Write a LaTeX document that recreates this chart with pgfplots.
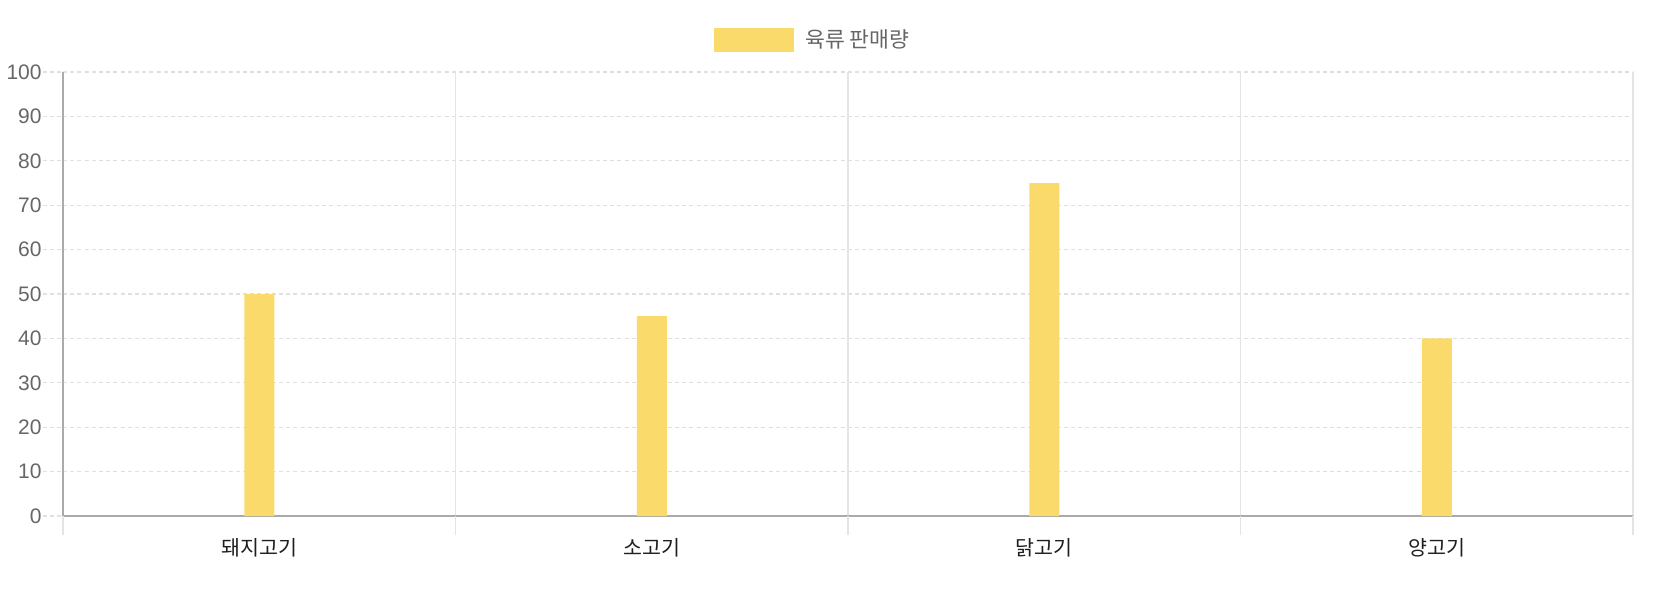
\documentclass[border=0pt]{standalone}
\usepackage{fontspec}
\setmainfont{Liberation Sans}
\newfontfamily\kr{Noto Sans CJK KR}
\usepackage{pgfplots}
\pgfplotsset{compat=1.18}
\definecolor{barfill}{RGB}{249,218,106}
\definecolor{gridgray}{RGB}{224,224,224}
\definecolor{vgrid}{RGB}{228,228,228}
\definecolor{axisgray}{RGB}{170,170,170}
\definecolor{ticktext}{RGB}{102,102,102}
\begin{document}
\begin{tikzpicture}
\begin{axis}[
  at={(0,0)},anchor=south west,
  scale only axis,width=785pt,height=222pt,
  xmin=-0.5,xmax=3.5,ymin=0,ymax=100,
  ybar,bar width=15pt,bar shift=0pt,
  xtick={0,1,2,3},
  xticklabels={돼지고기,소고기,닭고기,양고기},
  minor xtick={0.5,1.5,2.5,3.5},
  ytick={0,10,...,100},
  major tick length=0pt,minor tick length=0pt,
  ymajorgrids,xminorgrids,
  major grid style={draw=gridgray,dash pattern=on 2pt off 1.6pt,line width=0.6pt},
  minor grid style={draw=vgrid,solid,line width=0.6pt},
  axis x line*=bottom,axis y line*=left,
  axis line style={draw=axisgray,line width=0.8pt,-},
  clip=false,
  /pgf/number format/assume math mode=true,
  yticklabel style={font=\fontsize{10.5}{12}\selectfont,text=ticktext,
    anchor=east,inner sep=0pt,xshift=-10.5pt},
  xticklabel style={font=\kr\fontsize{10.3}{12}\selectfont,text=black!88,
    anchor=north,inner sep=0pt,yshift=-11pt},
  legend style={at={(0.4146,1.072)},anchor=west,draw=none,fill=none,
    inner sep=0pt,font=\kr\fontsize{10.8}{12}\selectfont,text=ticktext},
  legend image code/.code={\fill[barfill] (0pt,-6pt) rectangle (40pt,6pt);},
]
\addplot[fill=barfill,draw=none] coordinates {(0,50) (1,45) (2,75) (3,40)};
\addlegendentry{\hspace{3.5pt}육류 판매량}
\pgfplotsinvokeforeach{0,10,...,100}{
  \draw[gridgray,dash pattern=on 2pt off 1.6pt,line width=0.6pt]
    ([xshift=-10pt]axis cs:-0.5,#1) -- (axis cs:-0.5,#1);
}
\pgfplotsinvokeforeach{-0.5,0.5,1.5,2.5,3.5}{
  \draw[vgrid,line width=0.6pt] (axis cs:#1,0) -- ([yshift=-9.5pt]axis cs:#1,0);
}
\end{axis}
\pgfresetboundingbox
\path[use as bounding box] (-31.5pt,-40pt) rectangle (797.5pt,258pt);
\end{tikzpicture}
\end{document}
